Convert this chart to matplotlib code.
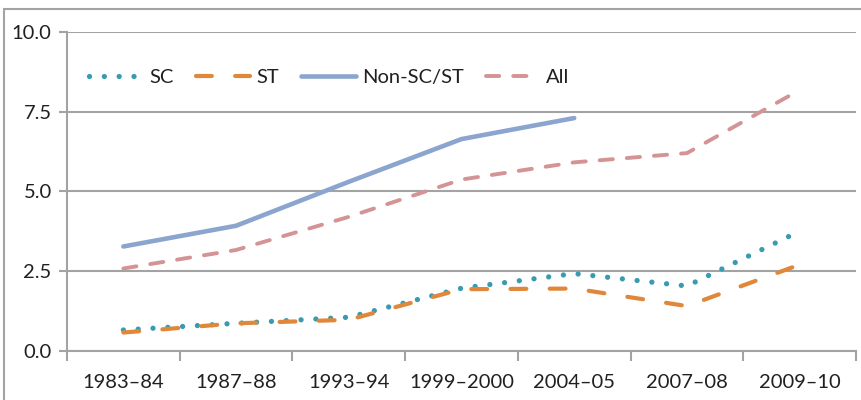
import matplotlib.pyplot as plt
from matplotlib.patches import Rectangle

plt.rcParams['font.family'] = ['Lato', 'DejaVu Sans']

years = ['1983–84', '1987–88', '1993–94', '1999–2000', '2004–05', '2007–08', '2009–10']
sc = [0.65, 0.86, 1.05, 1.96, 2.42, 2.03, 3.75]
st = [0.57, 0.86, 0.97, 1.93, 1.95, 1.40, 2.70]
non_sc_st = [3.27, 3.92, 5.30, 6.64, 7.30]
all_groups = [2.58, 3.16, 4.20, 5.37, 5.91, 6.20, 8.18]

c_sc = '#3a9bb0'
c_st = '#e0873a'
c_non = '#8ca5cf'
c_all = '#d49495'
grid_c = '#a3a3a3'
text_c = '#231f20'

fig = plt.figure(figsize=(8.62, 4.0), dpi=100)
ax = fig.add_axes([67/862, 1 - 350.7/400, (856-67)/862, (350.7-32)/400])

# outer frame (runs off the right and bottom of the image)
fig.patches.append(Rectangle((4/862, -0.1), 1.2, 1 - 9/400 + 0.1,
                             transform=fig.transFigure, fill=False,
                             edgecolor=grid_c, linewidth=1.5))

x = list(range(len(years)))
ax.plot(x, sc, color=c_sc, lw=3.8, dashes=(0.01, 2.8),
        dash_capstyle='round', label='SC')
ax.plot(x, st, color=c_st, lw=3.0, dashes=(3.8, 5.6),
        dash_capstyle='round', label='ST')
ax.plot(x[:len(non_sc_st)], non_sc_st, color=c_non, lw=3.3,
        solid_capstyle='round', label='Non-SC/ST')
ax.plot(x, all_groups, color=c_all, lw=2.8, dashes=(3.4, 3.6),
        dash_capstyle='round', label='All')

ax.set_xlim(-0.5, len(years) - 0.5)
ax.set_ylim(0, 10)
ax.set_yticks([0, 2.5, 5, 7.5, 10])
ax.set_yticklabels(['0.0', '2.5', '5.0', '7.5', '10.0'])
ax.set_xticks([i - 0.5 for i in range(len(years) + 1)])
ax.set_xticklabels([])
ax.set_xticks(x, minor=True)
ax.set_xticklabels(years, minor=True)

ax.grid(axis='y', color=grid_c, lw=1.5)
ax.set_axisbelow(True)
for s in ['top', 'right']:
    ax.spines[s].set_visible(False)
for s in ['left', 'bottom']:
    ax.spines[s].set_color(grid_c)
    ax.spines[s].set_linewidth(1.5)

ax.tick_params(axis='y', length=6, width=1.5, color=grid_c, labelsize=14.5,
               labelcolor=text_c, pad=5)
ax.tick_params(axis='x', which='major', length=7, width=1.5, color=grid_c)
ax.tick_params(axis='x', which='minor', length=0, labelsize=14.5,
               labelcolor=text_c, pad=17)

leg = ax.legend(loc='upper left', ncol=4, frameon=False, fontsize=14.5,
                handlelength=2.7, handletextpad=0.3, columnspacing=1.1,
                bbox_to_anchor=(0.005, 0.94))
for t in leg.get_texts():
    t.set_color(text_c)

fig.savefig('out.png', dpi=100)
